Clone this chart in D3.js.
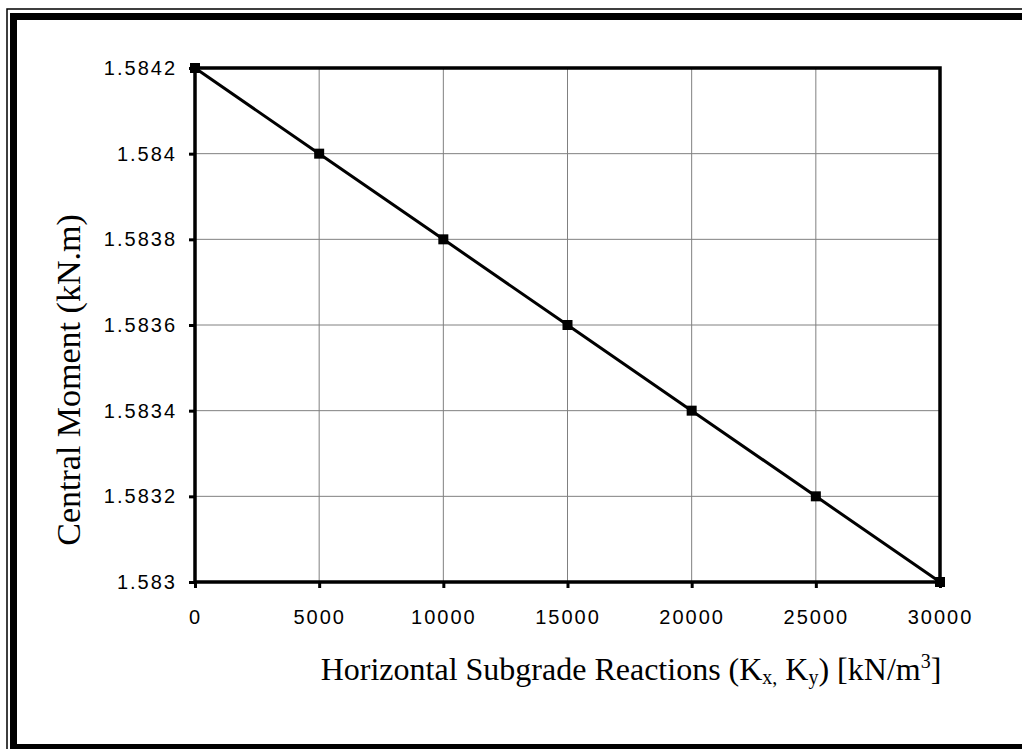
<!DOCTYPE html>
<html>
<head>
<meta charset="utf-8">
<script src="https://cdn.jsdelivr.net/npm/d3@7"></script>
<style>
  body { margin: 0; background: #fff; }
  svg { display: block; }
</style>
</head>
<body>
<div id="chart"></div>
<script>
// data
const kValues = [0, 5000, 10000, 15000, 20000, 25000, 30000];
const moments = [1.5842, 1.5840, 1.5838, 1.5836, 1.5834, 1.5832, 1.5830];
const xTicks = [0, 5000, 10000, 15000, 20000, 25000, 30000];
const yTicks = [1.5830, 1.5832, 1.5834, 1.5836, 1.5838, 1.5840, 1.5842];
const yTickLabels = ['1.583', '1.5832', '1.5834', '1.5836', '1.5838', '1.584', '1.5842'];

const width = 1022;
const height = 749;
const margin = { top: 68, right: 82, bottom: 167, left: 195 };

const svg = d3.select('#chart')
  .append('svg')
  .attr('width', width)
  .attr('height', height);

// outer double frame (clipped at right/bottom like the source)
svg.append('rect')
  .attr('x', 7).attr('y', 9)
  .attr('width', 1040).attr('height', 760)
  .attr('fill', 'none')
  .attr('stroke', '#000')
  .attr('stroke-width', 1.5);
svg.append('rect')
  .attr('x', 13.5).attr('y', 16.5)
  .attr('width', 1030).attr('height', 731)
  .attr('fill', 'none')
  .attr('stroke', '#000')
  .attr('stroke-width', 7);

const x = d3.scaleLinear()
  .domain([0, 30000])
  .range([margin.left, width - margin.right]);

const y = d3.scaleLinear()
  .domain([1.5830, 1.5842])
  .range([height - margin.bottom, margin.top]);

const plot = svg.append('g');

// gridlines
plot.append('g')
  .selectAll('line')
  .data(xTicks)
  .enter()
  .append('line')
  .attr('x1', (d) => x(d)).attr('x2', (d) => x(d))
  .attr('y1', y.range()[0]).attr('y2', y.range()[1])
  .attr('stroke', '#808080')
  .attr('stroke-width', 1);

plot.append('g')
  .selectAll('line')
  .data(yTicks)
  .enter()
  .append('line')
  .attr('x1', x.range()[0]).attr('x2', x.range()[1])
  .attr('y1', (d) => y(d)).attr('y2', (d) => y(d))
  .attr('stroke', '#808080')
  .attr('stroke-width', 1);

// axes
const xAxis = d3.axisBottom(x)
  .tickValues(xTicks)
  .tickSize(6)
  .tickPadding(22)
  .tickFormat(d3.format('d'));

const yAxis = d3.axisLeft(y)
  .tickValues(yTicks)
  .tickSize(6)
  .tickPadding(12)
  .tickFormat((d, i) => yTickLabels[i]);

const gx = svg.append('g')
  .attr('transform', `translate(0,${y.range()[0]})`)
  .call(xAxis);

const gy = svg.append('g')
  .attr('transform', `translate(${x.range()[0]},0)`)
  .call(yAxis);

[gx, gy].forEach((g) => {
  g.select('.domain').remove();
  g.selectAll('.tick line').attr('stroke', '#000').attr('stroke-width', 3);
  g.selectAll('.tick text')
    .attr('fill', '#000')
    .style('font-family', 'Liberation Sans, Arial, sans-serif')
    .style('font-size', '20px')
    .style('letter-spacing', '2px');
});

// plot box
svg.append('rect')
  .attr('x', x.range()[0]).attr('y', y.range()[1])
  .attr('width', x.range()[1] - x.range()[0])
  .attr('height', y.range()[0] - y.range()[1])
  .attr('fill', 'none')
  .attr('stroke', '#000')
  .attr('stroke-width', 3.5);

// series line
const line = d3.line()
  .x((d, i) => x(kValues[i]))
  .y((d) => y(d));

svg.append('path')
  .datum(moments)
  .attr('d', line)
  .attr('fill', 'none')
  .attr('stroke', '#000')
  .attr('stroke-width', 3);

svg.append('g')
  .selectAll('rect')
  .data(moments)
  .enter()
  .append('rect')
  .attr('x', (d, i) => x(kValues[i]) - 5)
  .attr('y', (d) => y(d) - 5)
  .attr('width', 10)
  .attr('height', 10)
  .attr('fill', '#000');

// axis titles
const xTitle = svg.append('text')
  .attr('x', 631)
  .attr('y', 680)
  .attr('text-anchor', 'middle')
  .style('font-family', 'Liberation Serif, Times New Roman, serif')
  .style('font-size', '32px')
  .attr('fill', '#000');
xTitle.append('tspan').text('Horizontal Subgrade Reactions (K');
xTitle.append('tspan').text('x,').style('font-size', '20px').attr('dy', 4);
xTitle.append('tspan').text(' K').attr('dy', -4);
xTitle.append('tspan').text('y').style('font-size', '20px').attr('dy', 4);
xTitle.append('tspan').text(') [kN/m').attr('dy', -4);
xTitle.append('tspan').text('3').style('font-size', '20px').attr('dy', -12);
xTitle.append('tspan').text(']').attr('dy', 12);

svg.append('text')
  .attr('transform', 'translate(80,380) rotate(-90)')
  .attr('text-anchor', 'middle')
  .style('font-family', 'Liberation Serif, Times New Roman, serif')
  .style('font-size', '34px')
  .attr('fill', '#000')
  .text('Central Moment (kN.m)');
</script>
</body>
</html>
